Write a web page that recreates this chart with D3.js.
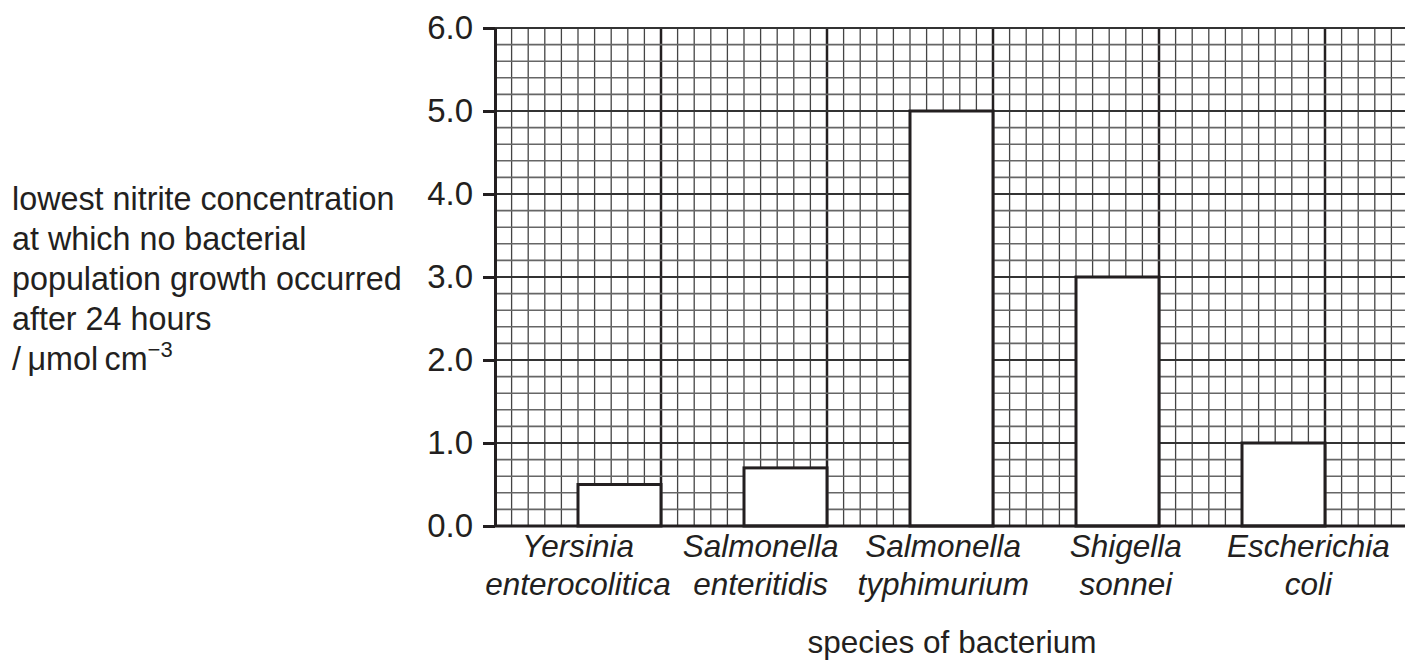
<!DOCTYPE html>
<html>
<head>
<meta charset="utf-8">
<script src="https://cdn.jsdelivr.net/npm/d3@7"></script>
<style>
  body { margin: 0; background: #fff; }
  text { font-family: "Liberation Sans", Arial, Helvetica, sans-serif; fill: #231f20; }
</style>
</head>
<body>
<script>
const species = [
  ["Yersinia", "enterocolitica"],
  ["Salmonella", "enteritidis"],
  ["Salmonella", "typhimurium"],
  ["Shigella", "sonnei"],
  ["Escherichia", "coli"]
];
const concentration = [0.5, 0.7, 5.0, 3.0, 1.0];
const yTicks = [0, 1, 2, 3, 4, 5, 6];
const yLabelLines = [
  "lowest nitrite concentration",
  "at which no bacterial",
  "population growth occurred",
  "after 24 hours"
];
const xTitle = "species of bacterium";

const w = 1405, h = 660;
const ink = "#231f20";
const plotLeft = 495, plotTop = 28, plotBottom = 526;
const minor = 16.6; // px per small square

const svg = d3.select("body").append("svg")
  .attr("width", w).attr("height", h);

// graph paper: small squares of 0.2 units
const gx = d3.scaleLinear().domain([0, 55]).range([plotLeft, plotLeft + 55 * minor]);
const y = d3.scaleLinear().domain([0, 6]).range([plotBottom, plotTop]);

const grid = svg.append("g");
grid.selectAll(".v").data(d3.range(1, 56)).enter().append("line")
  .attr("x1", d => gx(d)).attr("x2", d => gx(d))
  .attr("y1", y(6)).attr("y2", y(0))
  .attr("stroke", d => d % 10 === 0 ? ink : "#444")
  .attr("stroke-width", d => d % 10 === 0 ? 2.5 : 1.3);
grid.selectAll(".h").data(d3.range(1, 31)).enter().append("line")
  .attr("x1", plotLeft).attr("x2", w)
  .attr("y1", d => y(d / 5)).attr("y2", d => y(d / 5))
  .attr("stroke", d => d % 5 === 0 ? "#333" : "#666")
  .attr("stroke-width", d => d % 5 === 0 ? 2.2 : 1.6);

// bars sit in the right half of each category block
const band = d3.scaleBand().domain(d3.range(species.length))
  .range([gx(0), gx(50)]).padding(0);

svg.selectAll(".bar").data(concentration).enter().append("rect")
  .attr("x", (d, i) => band(i) + band.bandwidth() / 2)
  .attr("width", band.bandwidth() / 2)
  .attr("y", d => y(d))
  .attr("height", d => y(0) - y(d))
  .attr("fill", "#fff")
  .attr("stroke", ink)
  .attr("stroke-width", 3);

// y axis
const yAxis = svg.append("g")
  .attr("transform", "translate(" + plotLeft + ",0)")
  .call(d3.axisLeft(y).tickValues(yTicks).tickFormat(d3.format(".1f"))
    .tickSize(12).tickSizeOuter(0).tickPadding(10));
yAxis.attr("font-family", null).attr("font-size", null);
yAxis.select(".domain").attr("stroke", ink).attr("stroke-width", 3);
yAxis.selectAll(".tick line").attr("stroke", ink).attr("stroke-width", 3);
yAxis.selectAll(".tick text").style("font-size", "33px").attr("fill", ink);

// x axis baseline
svg.append("line")
  .attr("x1", plotLeft).attr("x2", w)
  .attr("y1", y(0)).attr("y2", y(0))
  .attr("stroke", ink).attr("stroke-width", 3);

// category labels
const lx = d3.scalePoint().domain(d3.range(species.length))
  .range([gx(5), gx(49)]);
const lab = svg.selectAll(".lab").data(species).enter().append("text")
  .attr("text-anchor", "middle")
  .style("font-size", "31.5px")
  .style("font-style", "italic");
lab.append("tspan").attr("x", (d, i) => lx(i)).attr("y", 557).text(d => d[0]);
lab.append("tspan").attr("x", (d, i) => lx(i)).attr("y", 595).text(d => d[1]);

svg.append("text")
  .attr("x", 952).attr("y", 653)
  .attr("text-anchor", "middle")
  .style("font-size", "31.5px")
  .text(xTitle);

// y label
const yl = svg.append("text").attr("x", 12).style("font-size", "32.3px");
yLabelLines.forEach((t, i) => {
  yl.append("tspan").attr("x", 12).attr("y", 210 + i * 40).text(t);
});
const unit = yl.append("tspan").attr("x", 12).attr("y", 370);
unit.text("/\u2009\u03bcmol\u2009cm");
yl.append("tspan").attr("dy", -13).style("font-size", "22px").text("\u22123");
</script>
</body>
</html>
